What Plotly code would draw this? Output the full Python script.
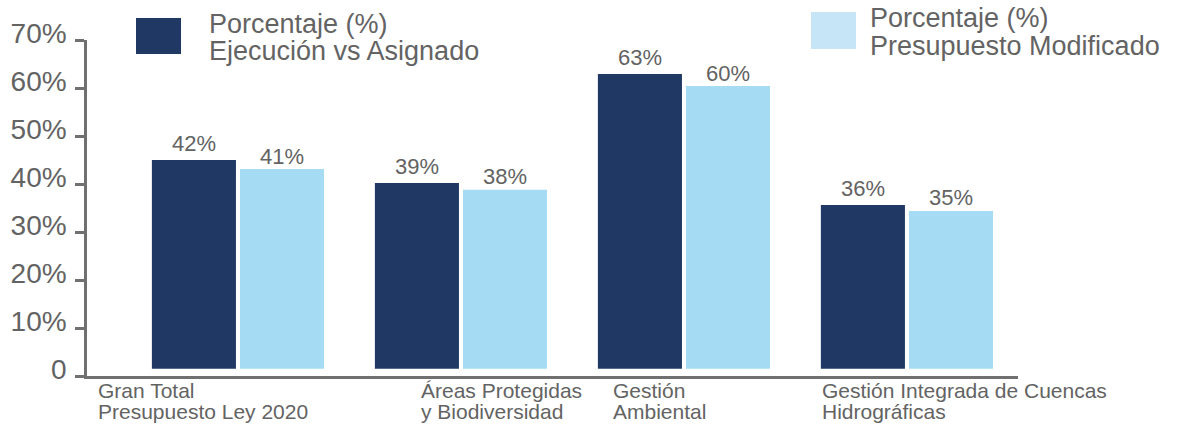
import plotly.graph_objects as go

# ---------------- data ----------------
categories = [
    "Gran Total\nPresupuesto Ley 2020",
    "Áreas Protegidas\ny Biodiversidad",
    "Gestión\nAmbiental",
    "Gestión Integrada de Cuencas\nHidrográficas",
]
series_names = [
    "Porcentaje (%)\nEjecución vs Asignado",
    "Porcentaje (%)\nPresupuesto Modificado",
]
# bar tops as drawn in the picture (% on the axis)
ejec_bar_top = [45.0, 40.2, 62.9, 35.6]
modif_bar_top = [43.1, 38.8, 60.4, 34.4]
# printed data labels
ejec_labels = [42, 39, 63, 36]
modif_labels = [41, 38, 60, 35]
y_tick_vals = [0, 10, 20, 30, 40, 50, 60, 70]
y_tick_text = ["0", "10%", "20%", "30%", "40%", "50%", "60%", "70%"]

# ---------------- style / layout ----------------
W, H = 1199, 425
L, R, T, B = 87, 1018, 40, 376
FONT = "Liberation Sans, Arial, sans-serif"
TXT = "#636363"
AXIS = "#707070"
DARK = "#203864"
LIGHT = "#A6DBF4"
LIGHT_KEY = "#C6E6F8"
BASE = 1.5
BAR_W = 0.377
OFF_DARK = -0.386
OFF_LIGHT = 0.009


def px_x(sx):
    return (sx - L) / (R - L)


def px_y(sy):
    return (B - sy) / (B - T)


xs = list(range(len(categories)))

fig = go.Figure()
fig.add_trace(go.Bar(
    x=xs, y=[v - BASE for v in ejec_bar_top], base=BASE,
    width=BAR_W, offset=OFF_DARK, marker=dict(color=DARK, line=dict(width=0)),
    name=series_names[0].replace("\n", " "), showlegend=False,
))
fig.add_trace(go.Bar(
    x=xs, y=[v - BASE for v in modif_bar_top], base=BASE,
    width=BAR_W, offset=OFF_LIGHT, marker=dict(color=LIGHT, line=dict(width=0)),
    name=series_names[1].replace("\n", " "), showlegend=False,
))

annotations = []
# data labels
for i in xs:
    annotations.append(dict(
        x=i + OFF_DARK + BAR_W / 2, y=ejec_bar_top[i], xref="x", yref="y",
        text=f"{ejec_labels[i]}%", showarrow=False, yanchor="middle", yshift=17,
        font=dict(family=FONT, size=22, color=TXT)))
    annotations.append(dict(
        x=i + OFF_LIGHT + BAR_W / 2, y=modif_bar_top[i], xref="x", yref="y",
        text=f"{modif_labels[i]}%", showarrow=False, yanchor="middle", yshift=13,
        font=dict(family=FONT, size=22, color=TXT)))

# category labels (left aligned, two lines)
cat_left_px = [96, 419, 611, 820]
cat_line_y_px = [390, 411]
for i, cat in enumerate(categories):
    for j, line in enumerate(cat.split("\n")):
        annotations.append(dict(
            x=px_x(cat_left_px[i]), y=px_y(cat_line_y_px[j]), xref="paper", yref="paper",
            text=line, showarrow=False, xanchor="left", yanchor="middle",
            font=dict(family=FONT, size=21, color=TXT)))

# legend text
leg_text_x_px = [207, 868]
leg_line_y_px = [[24, 51], [18, 46]]
for k, name in enumerate(series_names):
    for j, line in enumerate(name.split("\n")):
        annotations.append(dict(
            x=px_x(leg_text_x_px[k]), y=px_y(leg_line_y_px[k][j]), xref="paper", yref="paper",
            text=line, showarrow=False, xanchor="left", yanchor="middle",
            font=dict(family=FONT, size=27, color=TXT)))

shapes = [
    dict(type="rect", xref="paper", yref="paper",
         x0=px_x(136), x1=px_x(181), y0=px_y(54), y1=px_y(18),
         fillcolor=DARK, line=dict(width=0)),
    dict(type="rect", xref="paper", yref="paper",
         x0=px_x(811), x1=px_x(856), y0=px_y(49), y1=px_y(12),
         fillcolor=LIGHT_KEY, line=dict(width=0)),
]

fig.update_layout(
    width=W, height=H,
    margin=dict(l=L, r=W - R, t=T, b=H - B, pad=0),
    paper_bgcolor="white", plot_bgcolor="white",
    barmode="overlay",
    annotations=annotations, shapes=shapes,
    showlegend=False,
    xaxis=dict(range=[-0.677, 3.498], showticklabels=False, ticks="",
               showgrid=False, zeroline=False, showline=True,
               linecolor=AXIS, linewidth=2.5, fixedrange=True),
    yaxis=dict(range=[0, 70], tickvals=y_tick_vals, ticktext=y_tick_text,
               ticks="outside", ticklen=9, tickwidth=2.5, tickcolor=AXIS,
               showgrid=False, zeroline=False, showline=True,
               linecolor=AXIS, linewidth=2.5, ticklabelstandoff=3,
               ticklabelshift=-7,
               tickfont=dict(family=FONT, size=28, color=TXT), fixedrange=True),
)

fig.write_html(
    "out.html",
    config={"displayModeBar": False},
    post_script="document.body.style.margin='0';document.body.style.overflow='hidden';",
)
